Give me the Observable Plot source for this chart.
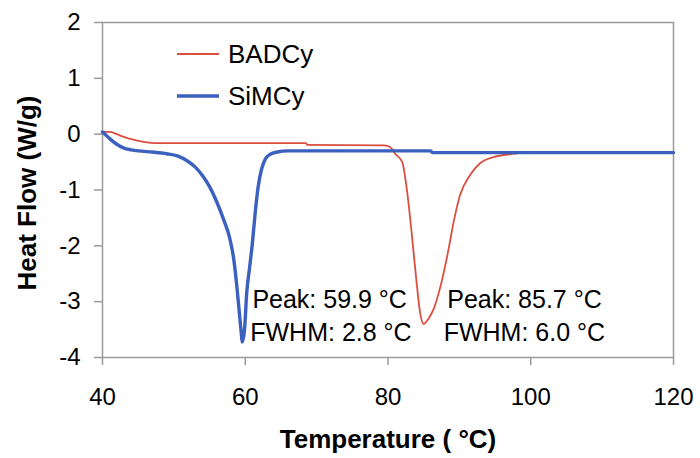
<!DOCTYPE html>
<html>
<head>
<meta charset="utf-8">
<script src="https://cdn.jsdelivr.net/npm/d3@7"></script>
<script src="https://cdn.jsdelivr.net/npm/@observablehq/plot@0.6"></script>
<style>
  html, body { margin: 0; padding: 0; background: #fff; }
  #wrap { position: relative; width: 700px; height: 458px; }
  #legend { position: absolute; left: 0; top: 0; pointer-events: none; }
</style>
</head>
<body>
<div id="wrap"></div>
<script>
// ---- Data ----
const xTicks = [40, 60, 80, 100, 120];
const yTicks = [-4, -3, -2, -1, 0, 1, 2];
const seriesNames = ["BADCy", "SiMCy"];
const seriesColors = ["#db4f40", "#3a60c0"];

// SiMCy: temperature (°C), heat flow (W/g)
const simcyT = [40.0, 40.5, 41, 42, 43, 44, 45, 47, 49, 50.5, 52, 53, 54, 55, 56, 57, 57.8, 58.4, 58.8, 59.1, 59.4, 59.6, 59.9, 60.2, 60.6, 61.0, 61.4, 61.8, 62.3, 62.8, 63.5, 64.5, 66, 86, 86.2, 120];
const simcyHF = [0.04, -0.02, -0.08, -0.18, -0.25, -0.28, -0.30, -0.32, -0.35, -0.39, -0.49, -0.59, -0.74, -0.94, -1.21, -1.54, -1.85, -2.25, -2.7, -3.1, -3.5, -3.72, -3.5, -2.85, -2.4, -1.95, -1.4, -0.95, -0.62, -0.45, -0.36, -0.32, -0.30, -0.30, -0.33, -0.33];

// BADCy
const badcyT = [40, 41, 42, 43, 44, 45, 46.5, 48, 68.5, 68.7, 79.5, 80.3, 81, 82.0, 82.6, 83.3, 84.0, 84.5, 85.0, 85.7, 86.4, 87.5, 88.5, 89.2, 90.1, 91.5, 92.9, 94.8, 97.1, 98];
const badcyHF = [0.04, 0.04, 0.0, -0.05, -0.09, -0.12, -0.15, -0.16, -0.16, -0.19, -0.2, -0.23, -0.35, -0.5, -0.95, -1.75, -2.65, -3.2, -3.4, -3.3, -3.13, -2.65, -2.05, -1.57, -1.09, -0.73, -0.52, -0.41, -0.36, -0.35];

// Annotations (data coordinates of text baseline start)
const annoText = ["Peak: 59.9 °C", "FWHM: 2.8 °C", "Peak: 85.7 °C", "FWHM: 6.0 °C"];
const annoT = [61.0, 60.7, 88.3, 87.8];
const annoHF = [-3.12, -3.70, -3.12, -3.70];

// ---- Build tables ----
const simcy = simcyT.map((t, i) => ({ t, hf: simcyHF[i] }));
const badcy = badcyT.map((t, i) => ({ t, hf: badcyHF[i] }));
const annos = annoText.map((s, i) => ({ s, t: annoT[i], hf: annoHF[i] }));

const font = "'Liberation Sans', Arial, Helvetica, sans-serif";
const gray = "#9a9a9a";

const chart = Plot.plot({
  width: 700,
  height: 458,
  marginLeft: 102,
  marginRight: 27,
  marginTop: 22,
  marginBottom: 101,
  style: { fontFamily: font, fontSize: "24px", color: "#000", background: "#fff" },
  x: { domain: [40, 120] },
  y: { domain: [-4, 2] },
  marks: [
    Plot.frame({ stroke: gray, strokeWidth: 1.5 }),
    Plot.axisX({ ticks: xTicks, tickFormat: d => String(d), tickSize: 8, tickPadding: 22, stroke: gray, strokeWidth: 1.5, fill: "#000", fontSize: 24, label: null }),
    Plot.axisY({ ticks: yTicks, tickFormat: d => String(d), tickSize: 8, tickPadding: 14, stroke: gray, strokeWidth: 1.5, fill: "#000", fontSize: 24, label: null }),
    Plot.line(badcy, { x: "t", y: "hf", stroke: seriesColors[0], strokeWidth: 1.8, curve: "monotone-x" }),
    Plot.line(simcy, { x: "t", y: "hf", stroke: seriesColors[1], strokeWidth: 3.4, curve: "monotone-x" }),
    Plot.text(annos, { x: "t", y: "hf", text: "s", textAnchor: "start", lineAnchor: "bottom", fontSize: 25, fill: "#000" }),
    Plot.text(["Temperature ( °C)"], { frameAnchor: "bottom", lineAnchor: "bottom", dy: 90, fontSize: 26, fontWeight: "bold", fill: "#000" }),
    Plot.text(["Heat Flow (W/g)"], { frameAnchor: "left", rotate: -90, textAnchor: "middle", lineAnchor: "bottom", dx: -67, dy: 3, fontSize: 26, fontWeight: "bold", fill: "#000" })
  ]
});

const wrap = document.getElementById("wrap");
wrap.appendChild(chart);

// Legend overlay
const leg = d3.select(wrap).append("svg")
  .attr("id", "legend").attr("width", 700).attr("height", 458);
const legY = [54, 96];
const legW = [1.8, 3.4];
seriesNames.forEach((name, i) => {
  leg.append("line").attr("x1", 177).attr("x2", 219).attr("y1", legY[i]).attr("y2", legY[i])
    .attr("stroke", seriesColors[i]).attr("stroke-width", legW[i]);
  leg.append("text").attr("x", 228).attr("y", legY[i] + 9)
    .attr("font-family", font).attr("font-size", 26).attr("fill", "#000").text(name);
});
</script>
</body>
</html>
